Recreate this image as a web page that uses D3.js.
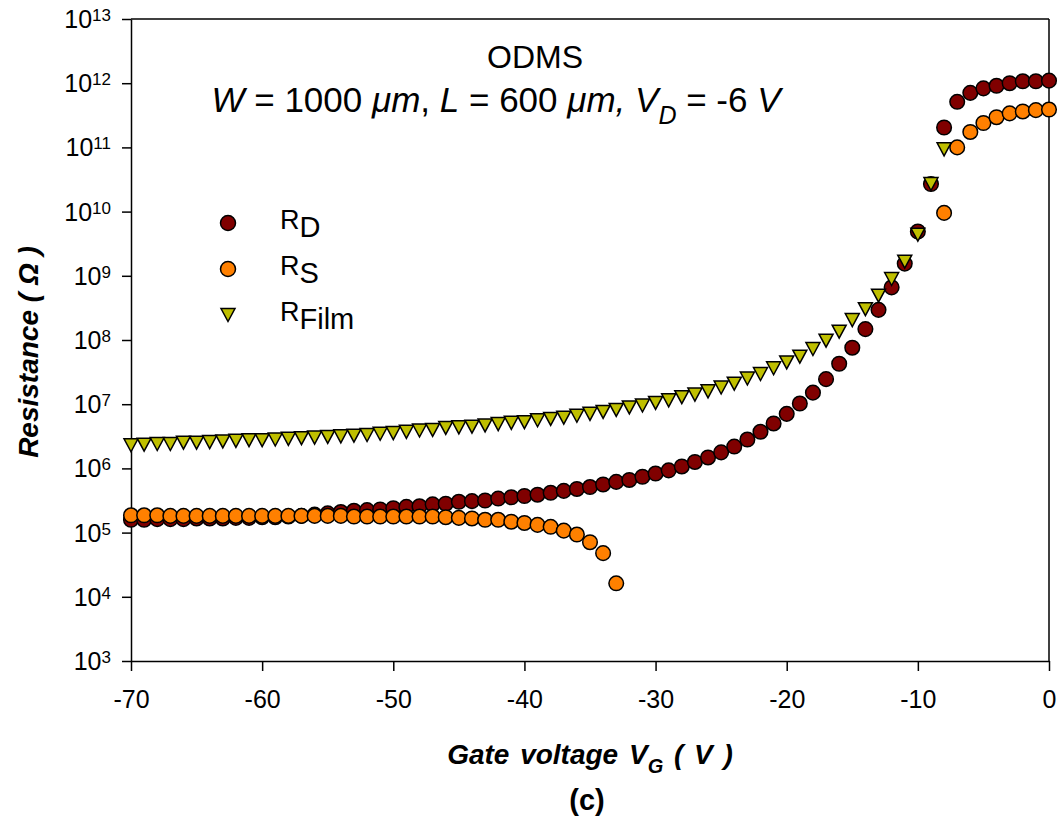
<!DOCTYPE html>
<html>
<head>
<meta charset="utf-8">
<script src="https://cdn.jsdelivr.net/npm/d3@7"></script>
<style>
    body { margin: 0; background: #fff; }
    text { font-family: "Liberation Sans", Arial, sans-serif; fill: #000; }
</style>
</head>
<body>
<svg id="chart" width="1059" height="819"></svg>
<script>
// Gate voltage steps (V)
const gateVoltage = [
    -70, -69, -68, -67, -66, -65, -64, -63, -62, -61,
    -60, -59, -58, -57, -56, -55, -54, -53, -52, -51,
    -50, -49, -48, -47, -46, -45, -44, -43, -42, -41,
    -40, -39, -38, -37, -36, -35, -34, -33, -32, -31,
    -30, -29, -28, -27, -26, -25, -24, -23, -22, -21,
    -20, -19, -18, -17, -16, -15, -14, -13, -12, -11,
    -10, -9, -8, -7, -6, -5, -4, -3, -2, -1, 0
];

// Resistances, stored as log10(Ohm)
const logRD = [
    5.20, 5.20, 5.21, 5.21, 5.21, 5.22, 5.22, 5.22, 5.23, 5.23,
    5.24, 5.24, 5.25, 5.26, 5.28, 5.30, 5.32, 5.34, 5.35, 5.36,
    5.38, 5.40, 5.41, 5.44, 5.45, 5.48, 5.49, 5.50, 5.53, 5.55,
    5.57, 5.59, 5.62, 5.65, 5.68, 5.71, 5.75, 5.79, 5.82, 5.87,
    5.92, 5.97, 6.03, 6.10, 6.17, 6.25, 6.34, 6.45, 6.57, 6.70,
    6.85, 7.01, 7.18, 7.39, 7.63, 7.88, 8.17, 8.47, 8.82, 9.19,
    9.69, 10.43, 11.31, 11.71, 11.85, 11.92, 11.96, 12.00, 12.03, 12.03, 12.04
];

const logRS = [
    5.27, 5.27, 5.27, 5.26, 5.26, 5.26, 5.26, 5.26, 5.26, 5.26,
    5.26, 5.26, 5.26, 5.26, 5.26, 5.26, 5.26, 5.25, 5.25, 5.25,
    5.25, 5.25, 5.25, 5.25, 5.24, 5.23, 5.22, 5.20, 5.20, 5.17,
    5.15, 5.12, 5.09, 5.03, 4.97, 4.85, 4.68, 4.21, null, null,
    null, null, null, null, null, null, null, null, null, null,
    null, null, null, null, null, null, null, null, null, null,
    null, null, 9.98, 11.00, 11.24, 11.38, 11.47, 11.53, 11.56, 11.58, 11.59
];

const logRFilm = [
    6.36, 6.37, 6.38, 6.38, 6.40, 6.40, 6.41, 6.42, 6.43, 6.44,
    6.44, 6.45, 6.46, 6.47, 6.48, 6.49, 6.50, 6.51, 6.52, 6.54,
    6.55, 6.57, 6.59, 6.60, 6.63, 6.64, 6.65, 6.67, 6.69, 6.71,
    6.72, 6.75, 6.77, 6.79, 6.82, 6.85, 6.88, 6.91, 6.95, 6.98,
    7.02, 7.06, 7.11, 7.15, 7.20, 7.26, 7.32, 7.40, 7.47, 7.56,
    7.65, 7.74, 7.86, 7.99, 8.13, 8.31, 8.48, 8.69, 8.95, 9.22,
    9.64, 10.43, 10.97, null, null, null, null, null, null, null, null
];

const xTicks = [-70, -60, -50, -40, -30, -20, -10, 0];
const yExponents = [3, 4, 5, 6, 7, 8, 9, 10, 11, 12, 13];

const colorD = "#800000";
const colorS = "#ff8000";
const colorFilm = "#bfbf00";

// Plot frame
const plotLeft = 131, plotRight = 1049, plotTop = 19, plotBottom = 661;

const svg = d3.select("#chart");

const x = d3.scaleLinear().domain([-70, 0]).range([plotLeft, plotRight]);
const y = d3.scaleLog().domain([1e3, 1e13]).range([plotBottom, plotTop]);

function toPoints(logs) {
    return gateVoltage
        .map((v, i) => ({ v: v, r: logs[i] == null ? null : Math.pow(10, logs[i]) }))
        .filter(d => d.r != null);
}

// Frame: top and right lines
svg.append("line")
    .attr("x1", plotLeft).attr("x2", plotRight).attr("y1", plotTop).attr("y2", plotTop)
    .attr("stroke", "#000").attr("stroke-width", 1.5);
svg.append("line")
    .attr("x1", plotRight).attr("x2", plotRight).attr("y1", plotTop).attr("y2", plotBottom)
    .attr("stroke", "#000").attr("stroke-width", 1.5);

// X axis (plain hyphen for the minus sign, like the original)
const xAxis = svg.append("g")
    .attr("transform", "translate(0," + plotBottom + ")")
    .call(d3.axisBottom(x).tickValues(xTicks).tickSize(10).tickSizeOuter(0).tickPadding(19)
        .tickFormat(d => String(d)));
xAxis.select(".domain").attr("stroke-width", 1.5);
xAxis.selectAll(".tick line").attr("stroke-width", 1.5);
xAxis.selectAll(".tick text")
    .style("font-size", "25px")
    .style("font-family", "'Liberation Sans', Arial, sans-serif");

// Y axis
const yAxis = svg.append("g")
    .attr("transform", "translate(" + plotLeft + ",0)")
    .call(d3.axisLeft(y).tickValues(yExponents.map(e => Math.pow(10, e))).tickSize(9).tickSizeOuter(0).tickFormat(""));
yAxis.select(".domain").attr("stroke-width", 1.5);
yAxis.selectAll(".tick line").attr("stroke-width", 1.5);

// Y tick labels as 10 with superscript
const yLabels = svg.append("g").selectAll("text")
    .data(yExponents)
    .enter().append("text")
    .attr("x", 111)
    .attr("y", d => y(Math.pow(10, d)) + 9)
    .attr("text-anchor", "end");
yLabels.append("tspan").style("font-size", "25px").text("10");
yLabels.append("tspan").style("font-size", "17px").attr("dy", -7).text(d => d);

// Markers
const trianglePath = "M-7,-6.5 L7,-6.5 L0,6.5 Z";

svg.append("g").selectAll("circle")
    .data(toPoints(logRD))
    .enter().append("circle")
    .attr("cx", d => x(d.v))
    .attr("cy", d => y(d.r))
    .attr("r", 7.3)
    .attr("fill", colorD)
    .attr("stroke", "#000")
    .attr("stroke-width", 1.5);

svg.append("g").selectAll("circle")
    .data(toPoints(logRS))
    .enter().append("circle")
    .attr("cx", d => x(d.v))
    .attr("cy", d => y(d.r))
    .attr("r", 7.3)
    .attr("fill", colorS)
    .attr("stroke", "#000")
    .attr("stroke-width", 1.5);

svg.append("g").selectAll("path")
    .data(toPoints(logRFilm))
    .enter().append("path")
    .attr("d", trianglePath)
    .attr("transform", d => "translate(" + x(d.v) + "," + y(d.r) + ")")
    .attr("fill", colorFilm)
    .attr("stroke", "#000")
    .attr("stroke-width", 1.5)
    .attr("stroke-linejoin", "miter");

// Legend
const legendItems = [
    { sub: "D", color: colorD, shape: "circle", yPos: 229 },
    { sub: "S", color: colorS, shape: "circle", yPos: 275 },
    { sub: "Film", color: colorFilm, shape: "triangle", yPos: 321 }
];
const legend = svg.append("g");
legendItems.forEach(function (item) {
    if (item.shape === "circle") {
        legend.append("circle")
            .attr("cx", 228).attr("cy", item.yPos - 6).attr("r", 7.5)
            .attr("fill", item.color).attr("stroke", "#000").attr("stroke-width", 1.5);
    } else {
        legend.append("path")
            .attr("d", trianglePath)
            .attr("transform", "translate(228," + (item.yPos - 6) + ")")
            .attr("fill", item.color).attr("stroke", "#000").attr("stroke-width", 1.5);
    }
    const t = legend.append("text").attr("x", 280).attr("y", item.yPos);
    t.append("tspan").style("font-size", "27px").text("R");
    t.append("tspan").style("font-size", "29px").attr("dy", 8).text(item.sub);
});

// Title lines
svg.append("text")
    .attr("x", 535).attr("y", 68)
    .attr("text-anchor", "middle")
    .style("font-size", "32px")
    .text("ODMS");

const sub = svg.append("text")
    .attr("x", 496).attr("y", 112)
    .attr("text-anchor", "middle")
    .style("font-size", "35px");
sub.append("tspan").style("font-style", "italic").text("W");
sub.append("tspan").text(" = 1000 ");
sub.append("tspan").style("font-style", "italic").text("\u03bcm");
sub.append("tspan").text(", ");
sub.append("tspan").style("font-style", "italic").text("L");
sub.append("tspan").text(" = 600 ");
sub.append("tspan").style("font-style", "italic").text("\u03bcm, V");
sub.append("tspan").style("font-style", "italic").style("font-size", "25px").attr("dy", 12).text("D");
sub.append("tspan").attr("dy", -12).text(" = -6 ");
sub.append("tspan").style("font-style", "italic").text("V");

// Axis titles
const xTitle = svg.append("text")
    .attr("x", 590).attr("y", 764)
    .attr("text-anchor", "middle")
    .style("font-size", "28px")
    .style("font-weight", "bold")
    .style("font-style", "italic")
    .style("word-spacing", "3px");
xTitle.append("tspan").text("Gate voltage V");
xTitle.append("tspan").style("font-size", "20px").attr("dy", 9).text("G");
xTitle.append("tspan").attr("dy", -9).text(" ( V )");

svg.append("text")
    .attr("transform", "translate(38,352) rotate(-90)")
    .attr("text-anchor", "middle")
    .style("font-size", "28px")
    .style("font-weight", "bold")
    .style("font-style", "italic")
    .text("Resistance ( \u03a9 )");

svg.append("text")
    .attr("x", 587).attr("y", 810)
    .attr("text-anchor", "middle")
    .style("font-size", "29px")
    .style("font-weight", "bold")
    .text("(c)");
</script>
</body>
</html>
